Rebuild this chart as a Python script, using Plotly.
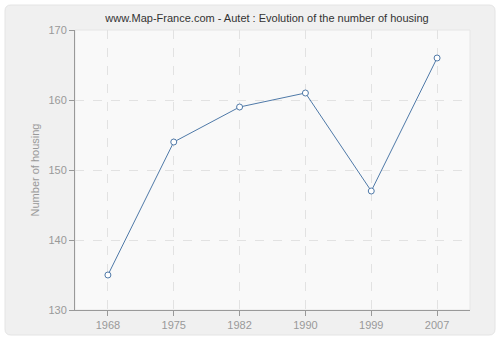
import plotly.graph_objects as go

years = ["1968", "1975", "1982", "1990", "1999", "2007"]
housing = [135, 154, 159, 161, 147, 166]
y_ticks = [130, 140, 150, 160, 170]

fig = go.Figure()
fig.add_trace(go.Scatter(
    x=years, y=housing, mode="lines+markers",
    line=dict(color="#4f79a8", width=1),
    marker=dict(symbol="circle", size=6, color="white",
                line=dict(color="#4f79a8", width=1)),
    hoverinfo="skip", showlegend=False,
))

L, R, T, B = 75, 30, 30, 30
W, H = 500, 340
pw, ph = W - L - R, H - T - B
def px_x(p): return (p - L) / pw
def px_y(p): return (H - B - p) / ph

# rounded outer panel
x0, x1, y0, y1, r = 5, 495, 5, 335, 6
path = (f"M {px_x(x0+r)},{px_y(y0)} L {px_x(x1-r)},{px_y(y0)} "
        f"Q {px_x(x1)},{px_y(y0)} {px_x(x1)},{px_y(y0+r)} "
        f"L {px_x(x1)},{px_y(y1-r)} Q {px_x(x1)},{px_y(y1)} {px_x(x1-r)},{px_y(y1)} "
        f"L {px_x(x0+r)},{px_y(y1)} Q {px_x(x0)},{px_y(y1)} {px_x(x0)},{px_y(y1-r)} "
        f"L {px_x(x0)},{px_y(y0+r)} Q {px_x(x0)},{px_y(y0)} {px_x(x0+r)},{px_y(y0)} Z")
fig.add_shape(type="path", path=path, xref="paper", yref="paper",
              fillcolor="#f0f0f0", line=dict(color="#e4e4e4", width=1), layer="below")
# plot area background
fig.add_shape(type="rect", xref="paper", yref="paper", x0=0, x1=1, y0=0, y1=1,
              fillcolor="#f9f9f9", line=dict(color="#e6e6e6", width=1), layer="below")

FONT = "Liberation Sans, Arial, sans-serif"
fig.update_layout(
    width=W, height=H,
    margin=dict(l=L, r=R, t=T, b=B),
    paper_bgcolor="white", plot_bgcolor="rgba(0,0,0,0)",
    font=dict(family=FONT, size=11, color="#999999"),
    title=dict(text="www.Map-France.com - Autet : Evolution of the number of housing",
               xref="container", x=267/W, xanchor="center", y=1 - 18/H, yanchor="middle",
               font=dict(family=FONT, size=11, color="#333333")),
    xaxis=dict(type="category", range=[-0.5, 5.5], automargin=False,
               showgrid=True, gridcolor="#e2e2e2", griddash="dash", gridwidth=1,
               showline=True, linecolor="#999999", linewidth=1,
               ticks="outside", ticklen=5, tickcolor="#999999",
               tickfont=dict(family=FONT, size=11, color="#999999"), zeroline=False, fixedrange=True),
    yaxis=dict(range=[130, 170], tickvals=y_ticks, automargin=False,
               showgrid=True, gridcolor="#e2e2e2", griddash="dash", gridwidth=1,
               showline=True, linecolor="#999999", linewidth=1,
               ticks="outside", ticklen=5, tickcolor="#999999",
               tickfont=dict(family=FONT, size=11, color="#999999"), zeroline=False,
               title=dict(text="Number of housing", font=dict(family=FONT, size=11, color="#999999"),
                          standoff=6),
               fixedrange=True),
)

fig.write_html("out.html")
